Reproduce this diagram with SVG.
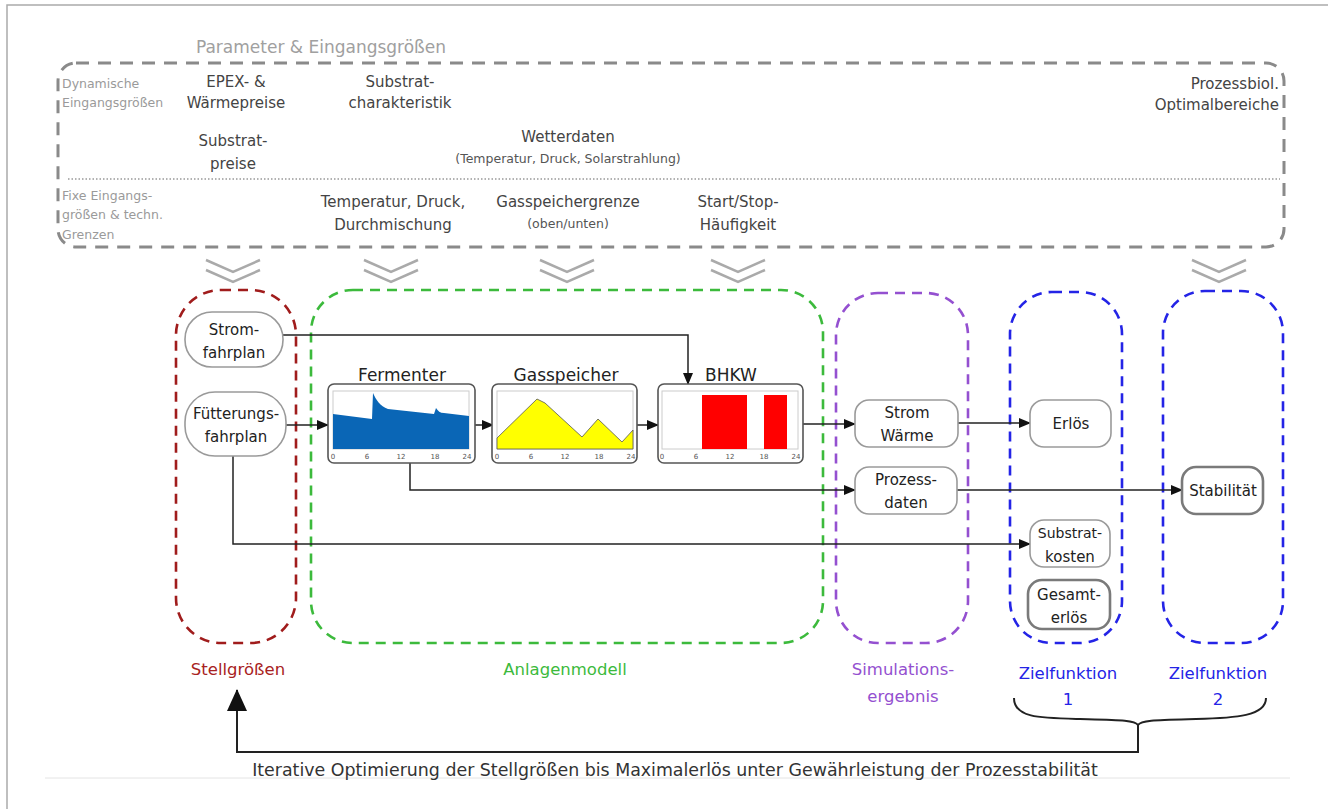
<svg xmlns="http://www.w3.org/2000/svg" width="1328" height="809" viewBox="0 0 1328 809">
<defs>
<style>
text{font-family:"DejaVu Sans",Verdana,sans-serif;}
.t{font-size:15px;fill:#444;text-anchor:middle;}
.ts{font-size:12.5px;fill:#555;text-anchor:middle;}
.side{font-size:12.5px;fill:#9a9a9a;}
.node{fill:#fff;stroke:#9a9a9a;stroke-width:1.6;}
.nodeB{fill:#fff;stroke:#7a7a7a;stroke-width:2.6;}
.nt{font-size:15px;fill:#222;text-anchor:middle;}
.grp{fill:none;stroke-width:2.6;stroke-dasharray:10 7;}
.gl{font-size:16.5px;text-anchor:middle;}
.chev{fill:none;stroke:#aaa;stroke-width:2.5;}
.con{fill:none;stroke:#222;stroke-width:1.5;}
.box{fill:#fff;stroke:#555;stroke-width:1.6;}
.ax{font-size:7px;fill:#555;text-anchor:middle;}
.plot{fill:#fff;stroke:#ccc;stroke-width:1;}
.ttl{font-size:17px;fill:#222;text-anchor:middle;}
</style>
<marker id="ah" markerWidth="12" markerHeight="10" refX="11" refY="5" orient="auto" markerUnits="userSpaceOnUse">
<path d="M0,0 L12,5 L0,10 Z" fill="#111"/>
</marker>
<marker id="ahB" markerWidth="22" markerHeight="26" refX="21" refY="13" orient="auto" markerUnits="userSpaceOnUse">
<path d="M0,3 L22,13 L0,23 Z" fill="#111"/>
</marker>
</defs>
<rect width="1328" height="809" fill="#fff"/>
<path d="M7,809 V5 H1328" fill="none" stroke="#aaa" stroke-width="1.5"/>
<line x1="45" y1="778" x2="1290" y2="778" stroke="#e4e4e4" stroke-width="1"/>

<g id="params">
<text x="321" y="53" style="font-size:17px;fill:#a0a0a0;text-anchor:middle">Parameter &amp; Eingangsgrößen</text>
<rect x="58" y="63" width="1226" height="184" rx="18" fill="none" stroke="#8a8a8a" stroke-width="3" stroke-dasharray="13 9"/>
<line x1="68" y1="179" x2="1280" y2="179" stroke="#999" stroke-width="1.5" stroke-dasharray="1.5 2"/>
<text class="side" x="62" y="88">Dynamische</text>
<text class="side" x="62" y="107">Eingangsgrößen</text>
<text class="side" x="62" y="200">Fixe Eingangs-</text>
<text class="side" x="62" y="219">größen &amp; techn.</text>
<text class="side" x="62" y="239">Grenzen</text>
<text class="t" x="236" y="87">EPEX- &amp;</text>
<text class="t" x="236" y="108">Wärmepreise</text>
<text class="t" x="400" y="87">Substrat-</text>
<text class="t" x="400" y="108">charakteristik</text>
<text class="t" x="233" y="146">Substrat-</text>
<text class="t" x="233" y="169">preise</text>
<text class="t" x="568" y="142">Wetterdaten</text>
<text class="ts" x="568" y="163">(Temperatur, Druck, Solarstrahlung)</text>
<text class="t" x="393" y="207">Temperatur, Druck,</text>
<text class="t" x="393" y="230">Durchmischung</text>
<text class="t" x="568" y="207">Gasspeichergrenze</text>
<text class="ts" x="568" y="228">(oben/unten)</text>
<text class="t" x="738" y="207">Start/Stop-</text>
<text class="t" x="738" y="230">Häufigkeit</text>
<text class="t" x="1279" y="89" style="text-anchor:end">Prozessbiol.</text>
<text class="t" x="1279" y="110" style="text-anchor:end">Optimalbereiche</text>
</g>

<g id="chevrons">
<path class="chev" d="M206,260 L233,272 L260,260 M206,270 L233,282 L260,270"/>
<path class="chev" d="M364,260 L391,272 L418,260 M364,270 L391,282 L418,270"/>
<path class="chev" d="M540,260 L567,272 L594,260 M540,270 L567,282 L594,270"/>
<path class="chev" d="M711,260 L738,272 L765,260 M711,270 L738,282 L765,270"/>
<path class="chev" d="M1192,260 L1219,272 L1246,260 M1192,270 L1219,282 L1246,270"/>
</g>

<g id="group-stellgroessen">
<rect class="grp" x="176" y="290" width="120" height="353" rx="45" stroke="#a01c1c"/>
<text class="gl" x="238" y="675" fill="#a82222">Stellgrößen</text>
</g>
<g id="group-anlagenmodell">
<rect class="grp" x="311" y="290" width="512" height="353" rx="42" stroke="#3cba3c"/>
<text class="gl" x="565" y="675" fill="#3cba3c">Anlagenmodell</text>
</g>
<g id="group-simulation">
<rect class="grp" x="836" y="293" width="132" height="350" rx="42" stroke="#9450d0"/>
<text class="gl" x="903" y="675" fill="#9450d0">Simulations-</text>
<text class="gl" x="903" y="702" fill="#9450d0">ergebnis</text>
</g>
<g id="group-ziel1">
<rect class="grp" x="1010" y="292" width="112" height="351" rx="42" stroke="#2424e6"/>
<text class="gl" x="1068" y="679" fill="#2424e6">Zielfunktion</text>
<text class="gl" x="1068" y="705" fill="#2424e6">1</text>
</g>
<g id="group-ziel2">
<rect class="grp" x="1163" y="291" width="120" height="352" rx="42" stroke="#2424e6"/>
<text class="gl" x="1218" y="679" fill="#2424e6">Zielfunktion</text>
<text class="gl" x="1218" y="705" fill="#2424e6">2</text>
</g>

<g id="connectors">
<path class="con" d="M283,335 H688 V384" marker-end="url(#ah)"/>
<path class="con" d="M286,425 H328" marker-end="url(#ah)"/>
<path class="con" d="M475,425 H493" marker-end="url(#ah)"/>
<path class="con" d="M637,425 H658" marker-end="url(#ah)"/>
<path class="con" d="M803,424 H855" marker-end="url(#ah)"/>
<path class="con" d="M958,423 H1030" marker-end="url(#ah)"/>
<path class="con" d="M410,463 V490 H855" marker-end="url(#ah)"/>
<path class="con" d="M957,490 H1182" marker-end="url(#ah)"/>
<path class="con" d="M233,456 V544 H1030" marker-end="url(#ah)"/>
<path d="M1014,698 C1014,718 1040,718 1080,719 C1120,720 1135,720 1138,725 C1141,720 1156,720 1196,719 C1236,718 1266,716 1266,698" fill="none" stroke="#222" stroke-width="2"/>
<path d="M1138,724 V752 H237 V690" fill="none" stroke="#222" stroke-width="2" marker-end="url(#ahB)"/>
</g>

<g id="stromfahrplan">
<rect class="node" x="185" y="312" width="98" height="55" rx="27"/>
<text class="nt" x="234" y="335">Strom-</text>
<text class="nt" x="234" y="358">fahrplan</text>
</g>
<g id="fuetterungsfahrplan">
<rect class="node" x="185" y="392" width="101" height="64" rx="30"/>
<text class="nt" x="236" y="419">Fütterungs-</text>
<text class="nt" x="236" y="442">fahrplan</text>
</g>

<g id="fermenter">
<text class="ttl" x="402" y="381">Fermenter</text>
<rect class="box" x="328" y="384" width="147" height="79" rx="6"/>
<rect class="plot" x="333" y="391" width="136" height="58"/>
<path d="M333,414 L372,419 L373,393 C376,400 380,406 388,409 L434,414 L436,408 C438,411 440,413 444,413 L469,416 L469,449 L333,449 Z" fill="#0a66b6"/>
<text class="ax" x="333" y="459">0</text><text class="ax" x="367" y="459">6</text><text class="ax" x="401" y="459">12</text><text class="ax" x="435" y="459">18</text><text class="ax" x="467" y="459">24</text>
</g>

<g id="gasspeicher">
<text class="ttl" x="566" y="381">Gasspeicher</text>
<rect class="box" x="492" y="384" width="145" height="79" rx="6"/>
<rect class="plot" x="497" y="391" width="136" height="58"/>
<path d="M497,438 L537,399 L545,403 L582,437 L598,419 L622,442 L633,430 L633,449 L497,449 Z" fill="#ffff00" stroke="#555" stroke-width="0.8"/>
<text class="ax" x="497" y="459">0</text><text class="ax" x="531" y="459">6</text><text class="ax" x="565" y="459">12</text><text class="ax" x="599" y="459">18</text><text class="ax" x="631" y="459">24</text>
</g>

<g id="bhkw">
<text class="ttl" x="731" y="381">BHKW</text>
<rect class="box" x="658" y="384" width="145" height="79" rx="6"/>
<rect class="plot" x="662" y="391" width="136" height="58"/>
<rect x="702" y="395" width="45" height="54" fill="#ff0000"/>
<rect x="764" y="395" width="23" height="54" fill="#ff0000"/>
<text class="ax" x="662" y="459">0</text><text class="ax" x="696" y="459">6</text><text class="ax" x="730" y="459">12</text><text class="ax" x="764" y="459">18</text><text class="ax" x="796" y="459">24</text>
</g>

<g id="strom-waerme">
<rect class="node" x="855" y="400" width="103" height="47" rx="14"/>
<text class="nt" x="907" y="418">Strom</text>
<text class="nt" x="907" y="441">Wärme</text>
</g>
<g id="prozessdaten">
<rect class="node" x="855" y="467" width="102" height="47" rx="14"/>
<text class="nt" x="906" y="485">Prozess-</text>
<text class="nt" x="906" y="508">daten</text>
</g>
<g id="erloes">
<rect class="node" x="1030" y="400" width="81" height="47" rx="14"/>
<text class="nt" x="1071" y="429">Erlös</text>
</g>
<g id="substratkosten">
<rect class="node" x="1030" y="520" width="80" height="47" rx="14"/>
<text class="nt" x="1070" y="538" style="font-size:14px">Substrat-</text>
<text class="nt" x="1070" y="562">kosten</text>
</g>
<g id="gesamterloes">
<rect class="nodeB" x="1028" y="580" width="82" height="49" rx="14"/>
<text class="nt" x="1069" y="600">Gesamt-</text>
<text class="nt" x="1069" y="623">erlös</text>
</g>
<g id="stabilitaet">
<rect class="nodeB" x="1182" y="467" width="81" height="47" rx="14"/>
<text class="nt" x="1223" y="496" style="font-size:15px">Stabilität</text>
</g>

<text x="675" y="776" style="font-size:17.4px;fill:#333;text-anchor:middle">Iterative Optimierung der Stellgrößen bis Maximalerlös unter Gewährleistung der Prozesstabilität</text>
</svg>
